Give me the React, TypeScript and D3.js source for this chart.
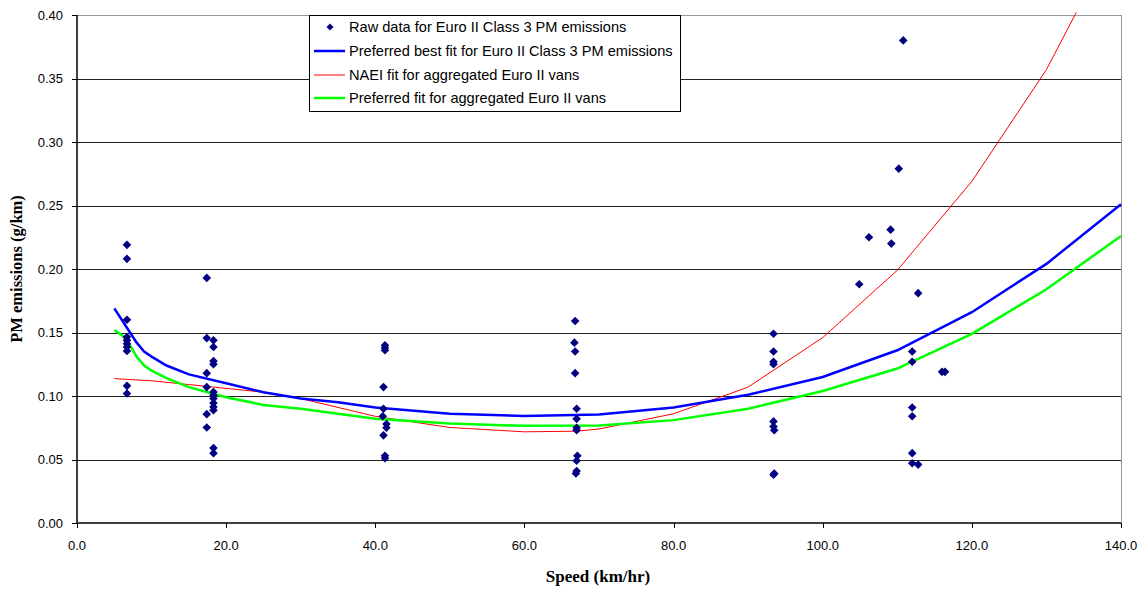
import React from "react";
import * as d3 from "d3";

const rawSpeed = [
  6.7, 6.7, 6.7, 6.7, 6.7, 6.7, 6.7, 6.7, 6.7, 6.7,
  17.4, 17.4, 17.4, 17.4, 17.4, 17.4,
  18.3, 18.3, 18.3, 18.3, 18.3, 18.3, 18.3, 18.3, 18.3, 18.3, 18.3, 18.3,
  41.3, 41.3, 41.3, 41.1, 41.1, 41.0, 41.5, 41.5, 41.1, 41.3, 41.3,
  66.8, 66.7, 66.8, 66.8, 67.0, 67.0, 67.0, 67.0, 67.1, 67.0, 67.0, 66.9,
  93.4, 93.4, 93.4, 93.4, 93.4, 93.4, 93.5, 93.5, 93.4,
  110.8, 110.2, 106.2, 109.1, 109.2, 104.9, 112.8, 112.0, 112.0, 116.0, 116.4,
  112.0, 112.0, 112.0, 112.0, 112.8,
];
const rawPM = [
  0.219, 0.208, 0.160, 0.1464, 0.1438, 0.1412, 0.1385, 0.1354, 0.108, 0.102,
  0.193, 0.1456, 0.118, 0.107, 0.0857, 0.0752,
  0.1438, 0.1386, 0.1275, 0.125, 0.1032, 0.1006, 0.098, 0.0945, 0.0914, 0.0888, 0.059, 0.055,
  0.140, 0.138, 0.136, 0.107, 0.090, 0.084, 0.078, 0.075, 0.069, 0.053, 0.051,
  0.159, 0.142, 0.135, 0.118, 0.090, 0.082, 0.075, 0.073, 0.053, 0.049, 0.041, 0.039,
  0.149, 0.135, 0.127, 0.125, 0.080, 0.076, 0.073, 0.039, 0.038,
  0.380, 0.279, 0.225, 0.231, 0.220, 0.188, 0.181, 0.135, 0.127, 0.119, 0.119,
  0.091, 0.084, 0.055, 0.047, 0.046,
];

const fitSpeed = [5, 6, 7, 8, 9, 10, 12, 15, 20, 25, 30, 35, 40, 50, 60, 70, 80, 90, 100, 110, 120, 130, 140];
const bestFitClass3 = [0.169, 0.160, 0.151, 0.142, 0.135, 0.131, 0.124, 0.117, 0.110, 0.103, 0.098, 0.095, 0.091, 0.086, 0.0843, 0.0855, 0.091, 0.101, 0.115, 0.136, 0.166, 0.204, 0.251];
const preferredAggregated = [0.152, 0.148, 0.141, 0.131, 0.124, 0.120, 0.114, 0.107, 0.099, 0.093, 0.090, 0.086, 0.082, 0.0783, 0.0765, 0.0768, 0.081, 0.090, 0.104, 0.1216, 0.149, 0.184, 0.226];

const naeiSpeed = [5, 7, 10, 15, 20, 25, 30, 35, 40, 50, 60, 67, 70, 80, 90, 100, 110, 120, 130, 134];
const naeiFit = [0.1137, 0.113, 0.112, 0.109, 0.106, 0.103, 0.098, 0.091, 0.084, 0.0752, 0.0718, 0.0723, 0.074, 0.086, 0.107, 0.146, 0.199, 0.269, 0.357, 0.402];

const xTicks = [0, 20, 40, 60, 80, 100, 120, 140];
const yTicks = [0, 0.05, 0.1, 0.15, 0.2, 0.25, 0.3, 0.35, 0.4];

const legendLabels = [
  "Raw data for Euro II Class 3 PM emissions",
  "Preferred best fit for Euro II Class 3 PM emissions",
  "NAEI fit for aggregated Euro II vans",
  "Preferred fit for aggregated Euro II vans",
];

export default function App() {
  const W = 1144, H = 590;
  const left = 77, right = 1121, top = 15, bottom = 523;
  const x = d3.scaleLinear().domain([0, 140]).range([left, right]);
  const y = d3.scaleLinear().domain([0, 0.4]).range([bottom, top]);
  const line = d3.line<[number, number]>().x((d) => x(d[0])).y((d) => y(d[1]));
  const blue = line(fitSpeed.map((s, i) => [s, bestFitClass3[i]]) as [number, number][]) || "";
  const green = line(fitSpeed.map((s, i) => [s, preferredAggregated[i]]) as [number, number][]) || "";
  const red = line(naeiSpeed.map((s, i) => [s, naeiFit[i]]) as [number, number][]) || "";
  const diamond = (cx: number, cy: number, r: number) =>
    `M${cx},${cy - r}L${cx + r},${cy}L${cx},${cy + r}L${cx - r},${cy}Z`;
  const font = "'Liberation Sans', Arial, sans-serif";
  const serif = "'Liberation Serif', 'Times New Roman', serif";

  const lgX = 309, lgY = 15, lgW = 371, lgH = 96;
  const rowY = [27, 51, 75, 98];

  return (
    <svg width={W} height={H} style={{ position: "absolute", left: 0, top: 0, background: "#fff" }}>
      <rect x={0} y={0} width={W} height={H} fill="#fff" />
      {yTicks.slice(1, -1).map((t) => (
        <line key={"g" + t} x1={left} x2={right} y1={Math.round(y(t)) + 0.5} y2={Math.round(y(t)) + 0.5} stroke="#222" strokeWidth={1} />
      ))}
      <line x1={left} x2={right} y1={top + 0.5} y2={top + 0.5} stroke="#999" strokeWidth={1} />
      <line x1={right + 0.5} x2={right + 0.5} y1={top} y2={bottom} stroke="#999" strokeWidth={1} />
      <line x1={left} x2={left} y1={top} y2={bottom} stroke="#000" strokeWidth={1.5} />
      <line x1={left} x2={right} y1={bottom} y2={bottom} stroke="#000" strokeWidth={1.5} />
      {yTicks.map((t) => (
        <g key={"y" + t}>
          <line x1={left - 5} x2={left} y1={Math.round(y(t)) + 0.5} y2={Math.round(y(t)) + 0.5} stroke="#000" />
          <text x={63} y={y(t)} dy="0.35em" textAnchor="end" fontFamily={font} fontSize={13} fill="#000">
            {t.toFixed(2)}
          </text>
        </g>
      ))}
      {xTicks.map((t) => (
        <g key={"x" + t}>
          <line x1={Math.round(x(t)) + 0.5} x2={Math.round(x(t)) + 0.5} y1={bottom} y2={bottom + 5} stroke="#000" />
          <text x={x(t)} y={550} textAnchor="middle" fontFamily={font} fontSize={13} fill="#000">
            {t.toFixed(1)}
          </text>
        </g>
      ))}
      <text x={598} y={582} textAnchor="middle" fontFamily={serif} fontWeight="bold" fontSize={17} fill="#000">
        Speed (km/hr)
      </text>
      <text transform={`translate(22,${(top + bottom) / 2}) rotate(-90)`} textAnchor="middle" fontFamily={serif} fontWeight="bold" fontSize={16.5} fill="#000">
        PM emissions (g/km)
      </text>
      <path d={red} fill="none" stroke="#ff0000" strokeWidth={1} />
      <path d={green} fill="none" stroke="#00ff00" strokeWidth={2.5} />
      <path d={blue} fill="none" stroke="#0000ff" strokeWidth={2.5} />
      {rawSpeed.map((s, i) => (
        <path key={"p" + i} d={diamond(x(s), y(rawPM[i]), 4.3)} fill="#000080" />
      ))}
      <rect x={lgX + 0.5} y={lgY + 0.5} width={lgW} height={lgH} fill="#fff" stroke="#000" strokeWidth={1} />
      <path d={diamond(330, rowY[0], 3.5)} fill="#000080" />
      <line x1={314} x2={345} y1={rowY[1]} y2={rowY[1]} stroke="#0000ff" strokeWidth={2.5} />
      <line x1={314} x2={345} y1={rowY[2]} y2={rowY[2]} stroke="#ff0000" strokeWidth={1} />
      <line x1={314} x2={345} y1={rowY[3]} y2={rowY[3]} stroke="#00ff00" strokeWidth={2.5} />
      {legendLabels.map((l, i) => (
        <text key={l} x={349} y={rowY[i]} dy="0.35em" fontFamily={font} fontSize={14.6} fill="#000">
          {l}
        </text>
      ))}
    </svg>
  );
}
